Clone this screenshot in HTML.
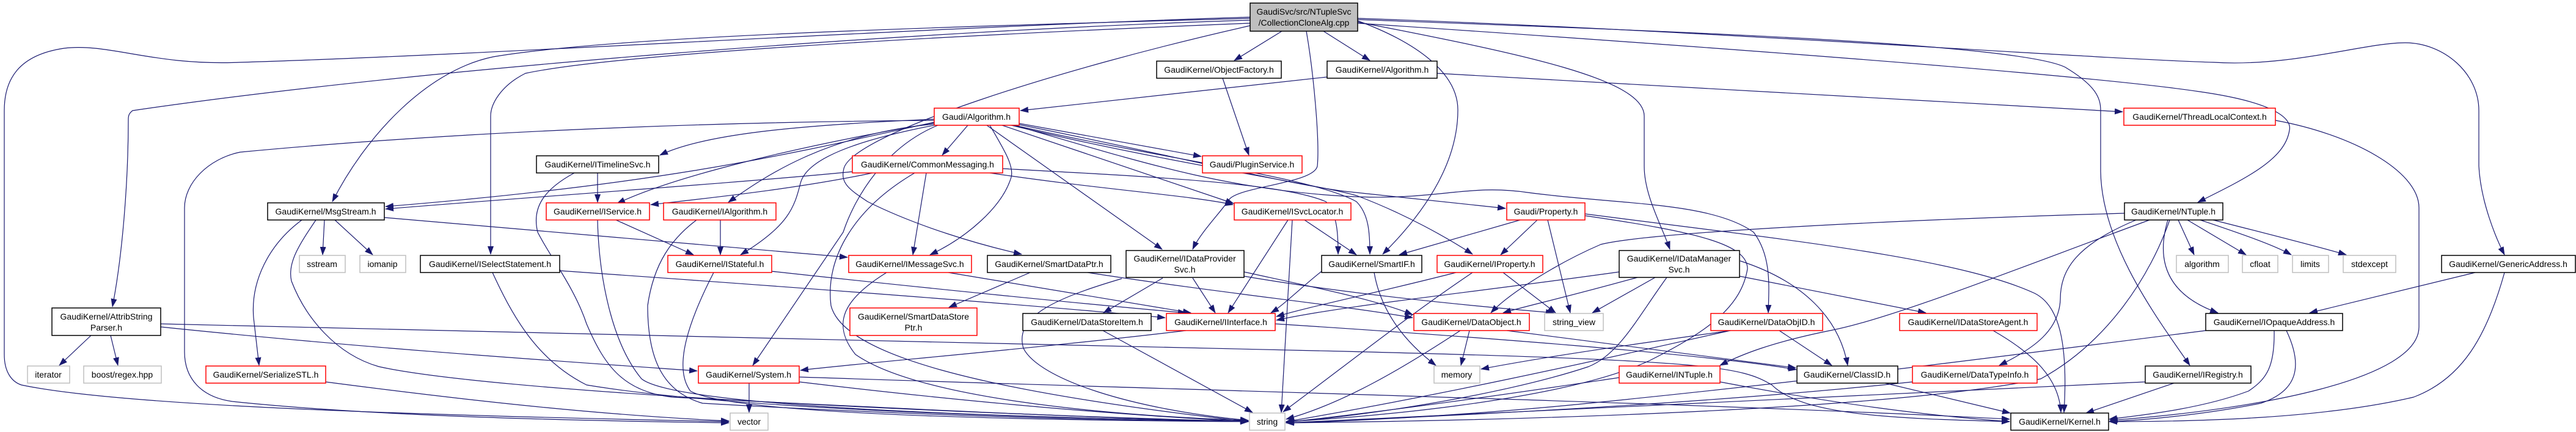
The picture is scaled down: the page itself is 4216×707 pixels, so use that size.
<!DOCTYPE html>
<html><head><meta charset="utf-8"><style>
html,body{margin:0;padding:0;background:#fff;}
svg{display:block;}
text{font-family:"Liberation Sans",sans-serif;font-size:14px;fill:#000;}
.e{fill:none;stroke:#191970;stroke-width:1.2;marker-end:url(#a);}
</style></head><body>
<svg width="4216" height="707" viewBox="0 0 4216 707" xmlns="http://www.w3.org/2000/svg">
<defs><marker id="a" markerUnits="userSpaceOnUse" markerWidth="14" markerHeight="10" refX="13" refY="5" orient="auto"><path d="M0,0 L14,5 L0,10 z" fill="#191970"/></marker></defs>
<g>
<path class="e" d="M2046,28 C1500,45 800,90 393,102 C250,108 180,70 105,79 C30,90 7,130 7,181 L7,580 C7,610 20,625 35,630 C200,665 700,680 1193,690"/>
<path class="e" d="M2046,30 C1500,45 1000,60 807,93 C700,115 600,220 544,330"/>
<path class="e" d="M2046,33 C1500,50 700,110 217,181 C212,185 210,188 210,195 C210,300 200,420 184,502"/>
<path class="e" d="M2046,38 C1500,60 1000,90 860,120 C820,140 803,170 803,190 L803,416"/>
<path class="e" d="M2098,51 L2020,99"/>
<path class="e" d="M2166,51 L2242,99"/>
<path class="e" d="M2046,42 C1731,113 1395,220 1381,276 C1375,300 1390,310 1420,330 C1500,370 1600,400 1672,416"/>
<path class="e" d="M2138,51 C2150,120 2160,230 2156,272 C2150,300 2030,305 2012,326 C2000,345 1965,380 1952,408"/>
<path class="e" d="M2222,34 C2320,70 2386,120 2386,180 C2386,240 2360,320 2263,416"/>
<path class="e" d="M2222,36 C2500,90 2691,130 2691,190 L2691,272 C2691,320 2720,370 2733,408"/>
<path class="e" d="M2222,38 C2700,70 3400,120 3600,150 C3740,170 3750,200 3747,213 C3740,260 3680,290 3597,331"/>
<path class="e" d="M2222,32 C2700,50 3300,70 3380,110 C3430,140 3438,160 3438,181 L3438,281 C3440,400 3530,520 3584,598"/>
<path class="e" d="M2222,30 C2800,50 3400,95 3623,102 C3750,110 3870,70 3936,70 C4000,70 4057,120 4057,181 L4057,272 C4060,330 4085,390 4099,417"/>
<path class="e" d="M2172,126 L1670,181"/>
<path class="e" d="M2352,120 L3474,183"/>
<path class="e" d="M2001,128 L2044,254"/>
<path class="e" d="M3724,197 C3850,220 3959,280 3959,340 L3959,535 C3959,620 3700,670 3453,688"/>

<path class="e" d="M1529,195 C1300,205 1150,220 1080,254"/>
<path class="e" d="M1529,197 C1100,200 700,220 393,249 C340,260 302,300 302,340 L302,576 C302,620 330,650 380,657 C600,680 900,688 1193,692"/>
<path class="e" d="M1529,200 C1300,250 1100,300 631,338"/>
<path class="e" d="M1529,201 C1300,240 1100,290 1010,333"/>
<path class="e" d="M1529,203 C1350,220 1250,290 1192,331"/>
<path class="e" d="M1529,205 C1400,230 1320,260 1310,300 C1300,340 1290,370 1212,417"/>
<path class="e" d="M1535,205 C1450,240 1400,320 1380,380 L1232,598"/>
<path class="e" d="M1584,205 L1542,254"/>
<path class="e" d="M1620,205 C1640,240 1660,270 1655,290 C1640,340 1580,390 1522,417"/>
<path class="e" d="M1615,205 L1902,408"/>
<path class="e" d="M1668,202 L1966,256"/>
<path class="e" d="M1640,205 C1800,260 1950,310 2019,333"/>
<path class="e" d="M1668,204 C1900,250 2100,300 2200,313 L2464,341"/>
<path class="e" d="M1660,205 C1900,260 2150,290 2220,330 C2240,350 2242,380 2242,416"/>
<path class="e" d="M1655,205 C1900,265 2150,300 2220,320 C2300,350 2370,390 2410,416"/>
<path class="e" d="M1660,205 C1850,260 2000,310 2200,321 C2350,330 2400,300 2500,315 C2650,335 2800,330 2870,380 C2900,420 2895,470 2894,512"/>

<path class="e" d="M1395,281 C1200,300 900,320 631,342"/>
<path class="e" d="M1428,283 C1300,310 1150,325 1065,335"/>
<path class="e" d="M1620,283 C1800,310 1950,320 2018,335"/>
<path class="e" d="M1516,283 L1494,417"/>
<path class="e" d="M1497,283 C1400,340 1350,420 1360,500 C1380,580 1600,640 2043,690"/>
<path class="e" d="M1641,276 C1900,290 2100,300 2170,330 C2190,350 2190,390 2190,416"/>

<path class="e" d="M978,283 L978,331"/>
<path class="e" d="M940,283 C890,310 870,340 880,380 C900,420 940,470 960,530 C990,600 1020,640 1100,650 C1500,670 1800,685 2043,690"/>
<path class="e" d="M1008,360 L1135,417"/>
<path class="e" d="M978,360 C980,450 1000,560 1050,620 C1100,660 1500,680 2043,690"/>
<path class="e" d="M1179,360 L1179,417"/>
<path class="e" d="M1140,360 C1100,390 1070,430 1060,500 C1060,580 1080,640 1150,660 C1500,680 1800,688 2043,690"/>
<path class="e" d="M1263,444 C1500,470 1800,500 1941,512"/>
<path class="e" d="M1168,446 C1130,520 1100,600 1130,640 C1200,680 1700,688 2043,690"/>
<path class="e" d="M1552,446 L1949,512"/>
<path class="e" d="M1451,446 C1380,490 1360,530 1400,580 C1500,650 1800,680 2043,688"/>
<path class="e" d="M629,356 L1387,421"/>
<path class="e" d="M531,360 L528,417"/>
<path class="e" d="M548,360 L610,417"/>
<path class="e" d="M494,360 C440,400 410,460 415,520 L424,598"/>
<path class="e" d="M517,360 C490,400 470,430 477,460 C500,520 550,580 620,600 C800,640 1500,675 2043,690"/>
<path class="e" d="M533,625 C800,660 1000,680 1193,689"/>
<path class="e" d="M916,443 C1300,470 1700,500 1907,520"/>
<path class="e" d="M806,446 C840,520 880,590 960,630 C1200,670 1700,685 2043,689"/>
<path class="e" d="M149,549 L97,598"/>
<path class="e" d="M181,549 L193,598"/>
<path class="e" d="M263,535 C600,570 900,590 1141,607"/>
<path class="e" d="M263,530 C800,545 1600,560 2200,575 C2800,590 2850,600 2900,630 C2950,680 3100,685 3289,690"/>
<path class="e" d="M1686,446 L1553,503"/>
<path class="e" d="M1780,446 C2000,480 2200,500 2312,520"/>
<path class="e" d="M1903,455 L1806,512"/>
<path class="e" d="M1952,455 L1989,512"/>
<path class="e" d="M1836,456 C1720,490 1660,520 1675,570 C1700,620 1850,670 2043,688"/>
<path class="e" d="M2036,445 C2150,470 2250,490 2312,515"/>
<path class="e" d="M2036,452 C2200,480 2400,500 2543,512"/>
<path class="e" d="M1805,541 L2050,675"/>
<path class="e" d="M1941,541 C1700,570 1400,595 1310,606"/>
<path class="e" d="M2087,530 C2400,550 2800,580 2940,605"/>
<path class="e" d="M1226,627 L1226,675"/>
<path class="e" d="M1308,625 C1600,660 1850,680 2043,690"/>
<path class="e" d="M1308,617 C2000,640 2800,660 3289,686"/>
<path class="e" d="M2135,360 L2220,417"/>
<path class="e" d="M2108,360 L2010,512"/>
<path class="e" d="M2115,360 L2097,675"/>
<path class="e" d="M2163,444 C2130,470 2100,500 2080,512"/>
<path class="e" d="M2249,446 C2260,510 2300,560 2350,598"/>
<path class="e" d="M2488,360 L2290,417"/>
<path class="e" d="M2516,360 L2456,417"/>
<path class="e" d="M2533,360 L2570,512"/>
<path class="e" d="M2594,350 C2900,390 3200,420 3330,480 C3370,500 3385,560 3378,675"/>
<path class="e" d="M2594,353 C2780,380 2860,400 2860,440 C2850,500 2800,540 2700,590 C2550,660 2200,685 2105,690"/>
<path class="e" d="M2383,446 C2250,480 2150,500 2089,518"/>
<path class="e" d="M2460,446 L2546,512"/>
<path class="e" d="M2410,446 C2300,520 2200,600 2100,674"/>
<path class="e" d="M2680,454 C2550,490 2500,500 2460,512"/>
<path class="e" d="M2709,454 L2606,512"/>
<path class="e" d="M2848,427 C2950,460 3010,520 3024,598"/>
<path class="e" d="M2847,452 L3152,512"/>
<path class="e" d="M2650,445 C2400,480 2200,500 2089,524"/>
<path class="e" d="M2728,454 C2680,520 2650,580 2600,600 C2450,650 2200,685 2105,690"/>
<path class="e" d="M2405,541 L2391,598"/>
<path class="e" d="M2466,541 C2700,570 2850,590 2939,602"/>
<path class="e" d="M2390,541 C2300,600 2200,660 2105,686"/>
<path class="e" d="M2912,541 L2998,598"/>
<path class="e" d="M2832,541 C2700,560 2550,580 2424,604"/>
<path class="e" d="M2832,541 C2700,570 2400,640 2105,690"/>
<path class="e" d="M3262,541 C3330,580 3370,620 3373,675"/>
<path class="e" d="M2815,625 C3000,660 3150,680 3289,690"/>
<path class="e" d="M2650,618 C2500,640 2300,670 2105,691"/>
<path class="e" d="M3085,627 L3290,676"/>
<path class="e" d="M3130,625 C2800,660 2400,680 2105,692"/>
<path class="e" d="M3477,349 C3100,360 2700,380 2620,400 C2550,430 2470,480 2440,512"/>
<path class="e" d="M3518,360 C3300,440 3100,520 3000,540 C2900,560 2850,580 2815,598"/>
<path class="e" d="M3496,360 C3400,400 3372,440 3372,490 C3370,540 3330,570 3272,598"/>
<path class="e" d="M3551,360 C3520,450 3450,560 3340,620 C3100,670 2500,688 2105,692"/>
<path class="e" d="M3565,360 L3591,417"/>
<path class="e" d="M3580,360 L3676,417"/>
<path class="e" d="M3601,360 C3660,380 3720,400 3750,417"/>
<path class="e" d="M3622,360 C3720,385 3800,405 3840,417"/>
<path class="e" d="M3548,360 C3530,420 3540,480 3630,512"/>
<path class="e" d="M4051,446 L3780,512"/>
<path class="e" d="M4099,446 C4070,550 4030,620 3950,650 C3800,685 3600,690 3452,690"/>
<path class="e" d="M3742,541 C3770,600 3760,640 3700,660 C3600,680 3500,688 3452,690"/>
<path class="e" d="M3722,541 C3723,600 3710,620 3680,640 C3600,670 3500,680 3452,686"/>
<path class="e" d="M3610,541 C3300,580 3000,620 2600,660 C2400,680 2200,690 2105,692"/>
<path class="e" d="M3558,627 L3414,676"/>
<path class="e" d="M3511,625 C3000,650 2500,675 2105,692"/>
</g>
<g stroke-width="1.5" text-anchor="middle">
<rect x="2046" y="5" width="176" height="46" fill="#bfbfbf" stroke="#000"/><text x="2134" y="24">GaudiSvc/src/NTupleSvc</text><text x="2134" y="42">/CollectionCloneAlg.cpp</text>
<rect x="1893" y="100" width="204" height="28" fill="#fff" stroke="#000"/><text x="1995" y="119">GaudiKernel/ObjectFactory.h</text>
<rect x="2172" y="100" width="180" height="28" fill="#fff" stroke="#000"/><text x="2262" y="119">GaudiKernel/Algorithm.h</text>
<rect x="1529" y="177" width="139" height="28" fill="#fff" stroke="#f00"/><text x="1598" y="196">Gaudi/Algorithm.h</text>
<rect x="3476" y="177" width="248" height="28" fill="#fff" stroke="#f00"/><text x="3600" y="196">GaudiKernel/ThreadLocalContext.h</text>
<rect x="878" y="255" width="200" height="28" fill="#fff" stroke="#000"/><text x="978" y="274">GaudiKernel/ITimelineSvc.h</text>
<rect x="1395" y="255" width="246" height="28" fill="#fff" stroke="#f00"/><text x="1518" y="274">GaudiKernel/CommonMessaging.h</text>
<rect x="1968" y="255" width="163" height="28" fill="#fff" stroke="#f00"/><text x="2049" y="274">Gaudi/PluginService.h</text>
<rect x="438" y="332" width="191" height="28" fill="#fff" stroke="#000"/><text x="533" y="351">GaudiKernel/MsgStream.h</text>
<rect x="894" y="332" width="169" height="28" fill="#fff" stroke="#f00"/><text x="978" y="351">GaudiKernel/IService.h</text>
<rect x="1086" y="332" width="184" height="28" fill="#fff" stroke="#f00"/><text x="1178" y="351">GaudiKernel/IAlgorithm.h</text>
<rect x="2020" y="332" width="191" height="28" fill="#fff" stroke="#f00"/><text x="2115" y="351">GaudiKernel/ISvcLocator.h</text>
<rect x="2466" y="332" width="128" height="28" fill="#fff" stroke="#f00"/><text x="2530" y="351">Gaudi/Property.h</text>
<rect x="3477" y="332" width="161" height="28" fill="#fff" stroke="#000"/><text x="3557" y="351">GaudiKernel/NTuple.h</text>
<rect x="490" y="418" width="75" height="28" fill="#fff" stroke="#bfbfbf"/><text x="527" y="437">sstream</text>
<rect x="589" y="418" width="75" height="28" fill="#fff" stroke="#bfbfbf"/><text x="626" y="437">iomanip</text>
<rect x="688" y="418" width="228" height="28" fill="#fff" stroke="#000"/><text x="802" y="437">GaudiKernel/ISelectStatement.h</text>
<rect x="1093" y="418" width="170" height="28" fill="#fff" stroke="#f00"/><text x="1178" y="437">GaudiKernel/IStateful.h</text>
<rect x="1389" y="418" width="201" height="28" fill="#fff" stroke="#f00"/><text x="1489" y="437">GaudiKernel/IMessageSvc.h</text>
<rect x="1616" y="418" width="202" height="28" fill="#fff" stroke="#000"/><text x="1717" y="437">GaudiKernel/SmartDataPtr.h</text>
<rect x="1843" y="410" width="193" height="44" fill="#fff" stroke="#000"/><text x="1939" y="428">GaudiKernel/IDataProvider</text><text x="1939" y="446">Svc.h</text>
<rect x="2163" y="418" width="164" height="28" fill="#fff" stroke="#000"/><text x="2245" y="437">GaudiKernel/SmartIF.h</text>
<rect x="2352" y="418" width="173" height="28" fill="#fff" stroke="#f00"/><text x="2438" y="437">GaudiKernel/IProperty.h</text>
<rect x="2650" y="410" width="197" height="44" fill="#fff" stroke="#000"/><text x="2748" y="428">GaudiKernel/IDataManager</text><text x="2748" y="446">Svc.h</text>
<rect x="3562" y="418" width="85" height="28" fill="#fff" stroke="#bfbfbf"/><text x="3604" y="437">algorithm</text>
<rect x="3670" y="418" width="58" height="28" fill="#fff" stroke="#bfbfbf"/><text x="3699" y="437">cfloat</text>
<rect x="3752" y="418" width="59" height="28" fill="#fff" stroke="#bfbfbf"/><text x="3781" y="437">limits</text>
<rect x="3835" y="418" width="86" height="28" fill="#fff" stroke="#bfbfbf"/><text x="3878" y="437">stdexcept</text>
<rect x="3996" y="418" width="219" height="28" fill="#fff" stroke="#000"/><text x="4105" y="437">GaudiKernel/GenericAddress.h</text>
<rect x="85" y="504" width="178" height="45" fill="#fff" stroke="#000"/><text x="174" y="523">GaudiKernel/AttribString</text><text x="174" y="541">Parser.h</text>
<rect x="1391" y="504" width="208" height="45" fill="#fff" stroke="#f00"/><text x="1495" y="523">GaudiKernel/SmartDataStore</text><text x="1495" y="541">Ptr.h</text>
<rect x="1674" y="513" width="210" height="28" fill="#fff" stroke="#000"/><text x="1779" y="532">GaudiKernel/DataStoreItem.h</text>
<rect x="1909" y="513" width="178" height="28" fill="#fff" stroke="#f00"/><text x="1998" y="532">GaudiKernel/IInterface.h</text>
<rect x="2314" y="513" width="189" height="28" fill="#fff" stroke="#f00"/><text x="2408" y="532">GaudiKernel/DataObject.h</text>
<rect x="2528" y="513" width="96" height="28" fill="#fff" stroke="#bfbfbf"/><text x="2576" y="532">string_view</text>
<rect x="2800" y="513" width="183" height="28" fill="#fff" stroke="#f00"/><text x="2891" y="532">GaudiKernel/DataObjID.h</text>
<rect x="3109" y="513" width="225" height="28" fill="#fff" stroke="#f00"/><text x="3221" y="532">GaudiKernel/IDataStoreAgent.h</text>
<rect x="3610" y="513" width="224" height="28" fill="#fff" stroke="#000"/><text x="3722" y="532">GaudiKernel/IOpaqueAddress.h</text>
<rect x="45" y="599" width="69" height="28" fill="#fff" stroke="#bfbfbf"/><text x="79" y="618">iterator</text>
<rect x="137" y="599" width="127" height="28" fill="#fff" stroke="#bfbfbf"/><text x="200" y="618">boost/regex.hpp</text>
<rect x="337" y="599" width="196" height="28" fill="#fff" stroke="#f00"/><text x="435" y="618">GaudiKernel/SerializeSTL.h</text>
<rect x="1143" y="599" width="165" height="28" fill="#fff" stroke="#f00"/><text x="1225" y="618">GaudiKernel/System.h</text>
<rect x="2347" y="599" width="75" height="28" fill="#fff" stroke="#bfbfbf"/><text x="2384" y="618">memory</text>
<rect x="2650" y="599" width="165" height="28" fill="#fff" stroke="#f00"/><text x="2732" y="618">GaudiKernel/INTuple.h</text>
<rect x="2941" y="599" width="165" height="28" fill="#fff" stroke="#000"/><text x="3023" y="618">GaudiKernel/ClassID.h</text>
<rect x="3130" y="599" width="204" height="28" fill="#fff" stroke="#f00"/><text x="3232" y="618">GaudiKernel/DataTypeInfo.h</text>
<rect x="3511" y="599" width="173" height="28" fill="#fff" stroke="#000"/><text x="3597" y="618">GaudiKernel/IRegistry.h</text>
<rect x="1195" y="676" width="62" height="28" fill="#fff" stroke="#bfbfbf"/><text x="1226" y="695">vector</text>
<rect x="2045" y="676" width="58" height="28" fill="#fff" stroke="#bfbfbf"/><text x="2074" y="695">string</text>
<rect x="3291" y="676" width="160" height="28" fill="#fff" stroke="#000"/><text x="3371" y="695">GaudiKernel/Kernel.h</text>
</g>
</svg>
</body></html>
